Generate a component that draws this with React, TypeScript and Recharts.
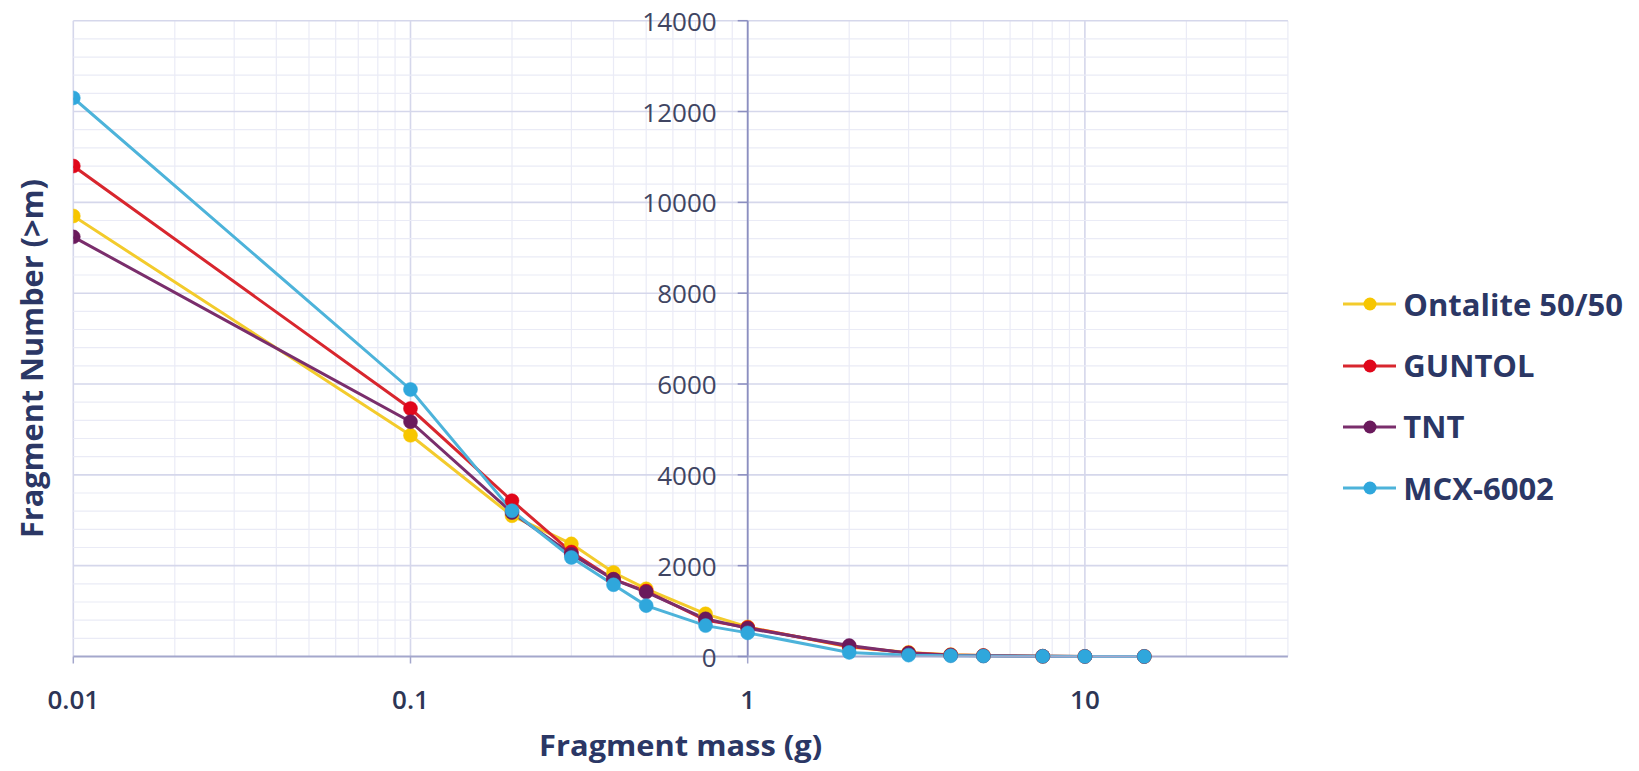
import React from 'react';
import {
  LineChart,
  Line,
  XAxis,
  YAxis,
  CartesianGrid,
  ReferenceLine,
  ReferenceDot,
  Legend,
} from 'recharts';

// ---------------- data ----------------
const masses = [0.01, 0.1, 0.2, 0.3, 0.4, 0.5, 0.75, 1, 2, 3, 4, 5, 7.5, 10, 15];
const ontalite = [9700, 4870, 3100, 2480, 1850, 1490, 940, 650, 210, 90, 40, 20, 5, 2, 1];
const guntol = [10800, 5460, 3430, 2300, 1700, 1440, 800, 640, 220, 80, 35, 20, 5, 2, 1];
const tnt = [9240, 5170, 3170, 2250, 1700, 1420, 830, 620, 240, 70, 30, 15, 5, 2, 1];
const mcx = [12300, 5880, 3210, 2180, 1580, 1120, 680, 520, 90, 30, 15, 10, 3, 1, 0.5];

const seriesNames = ['Ontalite 50/50', 'GUNTOL', 'TNT', 'MCX-6002'];
const seriesKeys = ['ontalite', 'guntol', 'tnt', 'mcx'];

const xTicks = [0.01, 0.1, 1, 10];
const xTickLabels = ['0.01', '0.1', '1', '10'];
const yTicks = [0, 2000, 4000, 6000, 8000, 10000, 12000, 14000];
const yTickLabels = ['0', '2000', '4000', '6000', '8000', '10000', '12000', '14000'];

const xDomain = [0.01, 40];
const yDomain = [0, 14000];

const xMajorGrid = [0.01, 0.1, 1, 10];
const xMinorGrid = [
  0.02, 0.03, 0.04, 0.05, 0.06, 0.07, 0.08, 0.09,
  0.2, 0.3, 0.4, 0.5, 0.6, 0.7, 0.8, 0.9,
  2, 3, 4, 5, 6, 7, 8, 9,
  20, 30, 40,
];
const yMajorGrid = [2000, 4000, 6000, 8000, 10000, 12000, 14000];
const yMinorGrid = [
  400, 800, 1200, 1600, 2400, 2800, 3200, 3600, 4400, 4800, 5200, 5600,
  6400, 6800, 7200, 7600, 8400, 8800, 9200, 9600, 10400, 10800, 11200, 11600,
  12400, 12800, 13200, 13600,
];

// ---------------- styles ----------------
const lineColors = ['#F3CB2C', '#D8262E', '#7A2E6C', '#4DB3DA'];
const dotColors = ['#F7C600', '#E0061A', '#6A1A5C', '#2FA7DC'];
const AXIS = '#8C8FC0';
const FONT = '"Open Sans", sans-serif';
const TITLE_COLOR = '#2B3765';
const TICK_COLOR = '#404562';
const MINOR = '#EAEBF6';
const MAJOR = '#D5D7EB';

const W = 1631;
const H = 763;

const data = masses.map((m, i) => ({
  m,
  ontalite: ontalite[i],
  guntol: guntol[i],
  tnt: tnt[i],
  mcx: mcx[i],
}));

const XTitle = (props: any) => {
  const vb = props.viewBox || { x: 0, y: 0, width: 0, height: 0 };
  return (
    <text
      x={vb.x + vb.width / 2}
      y={vb.y + 99.5}
      textAnchor="middle"
      fontFamily={FONT}
      fontWeight={700}
      fontSize={28}
      fill={TITLE_COLOR}
      textLength={283}
      lengthAdjust="spacingAndGlyphs"
    >
      Fragment mass (g)
    </text>
  );
};

const YTitleShape = (props: any) => {
  const cx = props.cx - 42;
  const cy = props.cy + 20;
  return (
    <text
      x={cx}
      y={cy}
      transform={`rotate(-90 ${cx} ${cy})`}
      textAnchor="middle"
      dominantBaseline="central"
      fontFamily={FONT}
      fontWeight={700}
      fontSize={30}
      fill={TITLE_COLOR}
      textLength={359}
      lengthAdjust="spacingAndGlyphs"
    >
      Fragment Number (&gt;m)
    </text>
  );
};

const makeYTick = (label: string) => (props: any) => {
  const { cx, cy } = props;
  return (
    <g>
      <line x1={cx - 10} y1={cy} x2={cx} y2={cy} stroke={AXIS} strokeWidth={1.5} />
      <text
        x={cx - 31}
        y={cy}
        textAnchor="end"
        dominantBaseline="central"
        fontFamily={FONT}
        fontSize={26}
        fill={TICK_COLOR}
      >
        {label}
      </text>
    </g>
  );
};

const LegendContent = () => (
  <div style={{ fontFamily: FONT }}>
    {seriesNames.map((name, i) => (
      <div
        key={name}
        style={{ display: 'flex', alignItems: 'center', height: 61.3 }}
      >
        <svg width={60} height={20} style={{ display: 'block', flex: 'none' }}>
          <line x1={0} y1={10} x2={53} y2={10} stroke={lineColors[i]} strokeWidth={3} />
          <circle cx={27} cy={10} r={6.5} fill={dotColors[i]} />
        </svg>
        <span
          style={{
            fontSize: 31,
            fontWeight: 700,
            color: TITLE_COLOR,
            lineHeight: 1,
            whiteSpace: 'nowrap',
          }}
        >
          {name}
        </span>
      </div>
    ))}
  </div>
);

export default function App() {
  return (
    <div style={{ width: W, height: H, marginTop: -8, marginLeft: -8, fontFamily: FONT }}>
      <LineChart
        width={W}
        height={H}
        data={data}
        margin={{ top: 20.7, right: 343.1, bottom: 46.5, left: 73.3 }}
      >
        <CartesianGrid
          horizontal={false}
          verticalValues={xMinorGrid}
          stroke={MINOR}
          strokeWidth={1.2}
        />
        <CartesianGrid
          horizontal={false}
          verticalValues={xMajorGrid}
          stroke={MAJOR}
          strokeWidth={1.6}
        />
        {yMinorGrid.map((v) => (
          <ReferenceLine key={'mi' + v} y={v} stroke={MINOR} strokeWidth={1.2} />
        ))}
        {yMajorGrid.map((v) => (
          <ReferenceLine key={'ma' + v} y={v} stroke={MAJOR} strokeWidth={1.6} />
        ))}
        <XAxis
          dataKey="m"
          type="number"
          scale="log"
          domain={xDomain}
          allowDataOverflow
          ticks={xTicks}
          interval={0}
          tickFormatter={(v: number) => xTickLabels[xTicks.indexOf(v)] ?? String(v)}
          height={60}
          tickSize={7}
          tickMargin={27}
          tick={{ fill: '#2D3555', fontSize: 26, fontWeight: 600, fontFamily: FONT }}
          axisLine={{ stroke: '#A4A7CC', strokeWidth: 2 }}
          tickLine={{ stroke: '#A4A7CC', strokeWidth: 1.5 }}
          label={<XTitle />}
        />
        <YAxis
          type="number"
          domain={yDomain}
          ticks={yTicks}
          width={0}
          tick={false}
          axisLine={false}
          tickLine={false}
        />
        <ReferenceDot x={0.01} y={7000} r={0} ifOverflow="visible" shape={YTitleShape} />
        <ReferenceLine x={1} stroke={AXIS} strokeWidth={1.8} />
        {yTicks.map((v, i) => (
          <ReferenceDot
            key={v}
            x={1}
            y={v}
            r={0}
            ifOverflow="visible"
            shape={makeYTick(yTickLabels[i])}
          />
        ))}
        {seriesKeys.map((k, i) => (
          <Line
            key={k}
            type="linear"
            dataKey={k}
            name={seriesNames[i]}
            stroke={lineColors[i]}
            strokeWidth={3}
            dot={{ r: 7, fill: dotColors[i], stroke: dotColors[i], strokeWidth: 0.5 }}
            activeDot={false}
            isAnimationActive={false}
          />
        ))}
        <Legend
          layout="vertical"
          align="center"
          verticalAlign="middle"
          content={<LegendContent />}
          wrapperStyle={{ position: 'absolute', left: 1343.3, top: 273.7, width: 288, height: 250 }}
        />
      </LineChart>
    </div>
  );
}
